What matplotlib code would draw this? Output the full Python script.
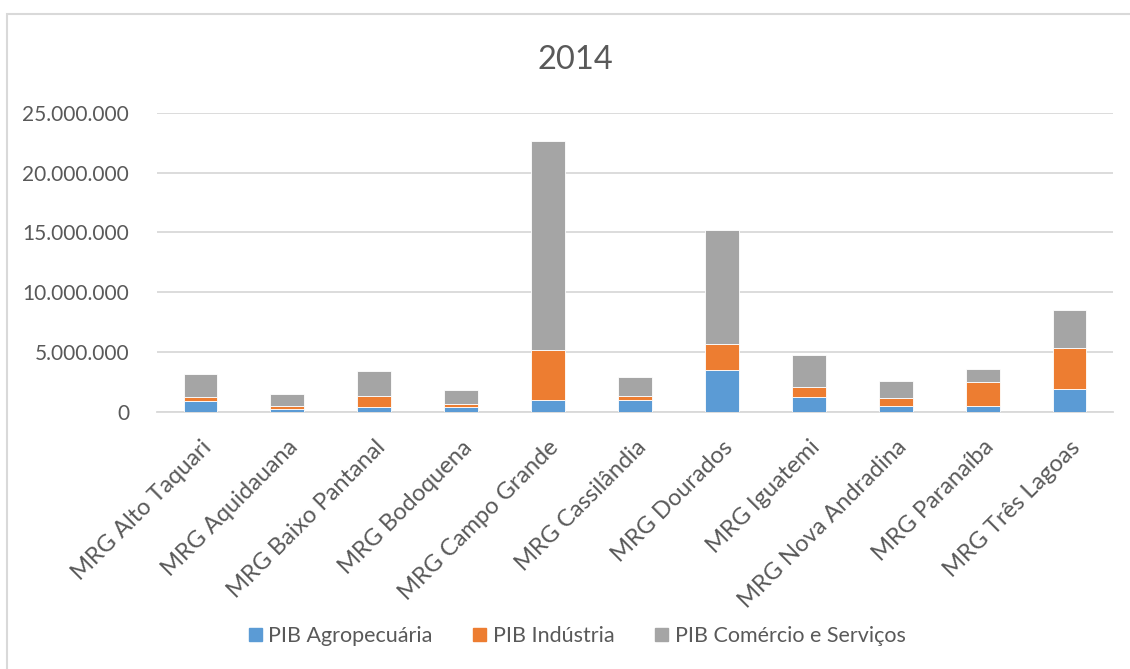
import matplotlib.pyplot as plt
import matplotlib.patches as mpatches
from matplotlib.ticker import FuncFormatter
import numpy as np

plt.rcParams['font.family'] = ['Lato', 'DejaVu Sans']

regions = ['MRG Alto Taquari', 'MRG Aquidauana', 'MRG Baixo Pantanal', 'MRG Bodoquena',
           'MRG Campo Grande', 'MRG Cassilândia', 'MRG Dourados', 'MRG Iguatemi',
           'MRG Nova Andradina', 'MRG Paranaíba', 'MRG Três Lagoas']

# values (R$ mil)
agro = [900000, 220000, 340000, 390000, 1000000, 1000000, 3510000, 1220000, 480000, 480000, 1880000]
industria = [340000, 200000, 930000, 230000, 4180000, 340000, 2180000, 810000, 640000, 2000000, 3480000]
comercio = [1920000, 1050000, 2140000, 1220000, 17450000, 1560000, 9500000, 2710000, 1410000, 1060000, 3160000]

labels = ['PIB Agropecuária', 'PIB Indústria', 'PIB Comércio e Serviços']
colors = ['#5b9bd5', '#ed7d31', '#a5a5a5']
txt = '#595959'

fig = plt.figure(figsize=(11.3, 6.69), dpi=100)
ax = fig.add_axes([157/1130, 1 - 411.5/669, (1113-157)/1130, (411.5-113)/669])

x = np.arange(len(regions))
w = 0.39
agro = np.array(agro)
industria = np.array(industria)
comercio = np.array(comercio)
ax.bar(x, agro, w, color=colors[0], edgecolor='white', linewidth=0.6, zorder=3)
ax.bar(x, industria, w, bottom=agro, color=colors[1], edgecolor='white', linewidth=0.6, zorder=3)
ax.bar(x, comercio, w, bottom=agro+industria, color=colors[2], edgecolor='white', linewidth=0.6, zorder=3)

ax.set_xlim(-0.5, len(regions) - 0.5)
ax.set_ylim(0, 25000000)
ax.set_yticks(np.arange(0, 25000001, 5000000))
ax.yaxis.set_major_formatter(FuncFormatter(lambda v, p: '{:,.0f}'.format(v).replace(',', '.')))
ax.grid(axis='y', color='#d9d9d9', linewidth=1.3, zorder=0)
for s in ['top', 'right', 'left']:
    ax.spines[s].set_visible(False)
ax.spines['bottom'].set_color('#d9d9d9')
ax.spines['bottom'].set_linewidth(1.3)
ax.tick_params(axis='y', length=0, pad=20, labelsize=15, labelcolor=txt)
ax.tick_params(axis='x', length=0, pad=18, labelsize=17, labelcolor=txt)
ax.set_xticks(x)
ax.set_xticklabels(regions, rotation=45, ha='right', rotation_mode='anchor')

fig.text(575/1130, 1 - 60/669, '2014', ha='center', va='center', fontsize=23.5, color=txt)

handles = [mpatches.Patch(color=c, label=l) for c, l in zip(colors, labels)]
fig.legend(handles=handles, loc='center', bbox_to_anchor=(577/1130, 1 - 636/669), ncol=3,
           frameon=False, fontsize=15.5, labelcolor=txt, handlelength=0.6, handleheight=0.6,
           handletextpad=0.3, columnspacing=1.9)

fig.patches.append(mpatches.Rectangle((7/1130, -0.1), 1.2, 1.1 - 14/669, transform=fig.transFigure,
                                      fill=False, edgecolor='#d9d9d9', linewidth=1.5))

fig.savefig('out.png', dpi=100)
